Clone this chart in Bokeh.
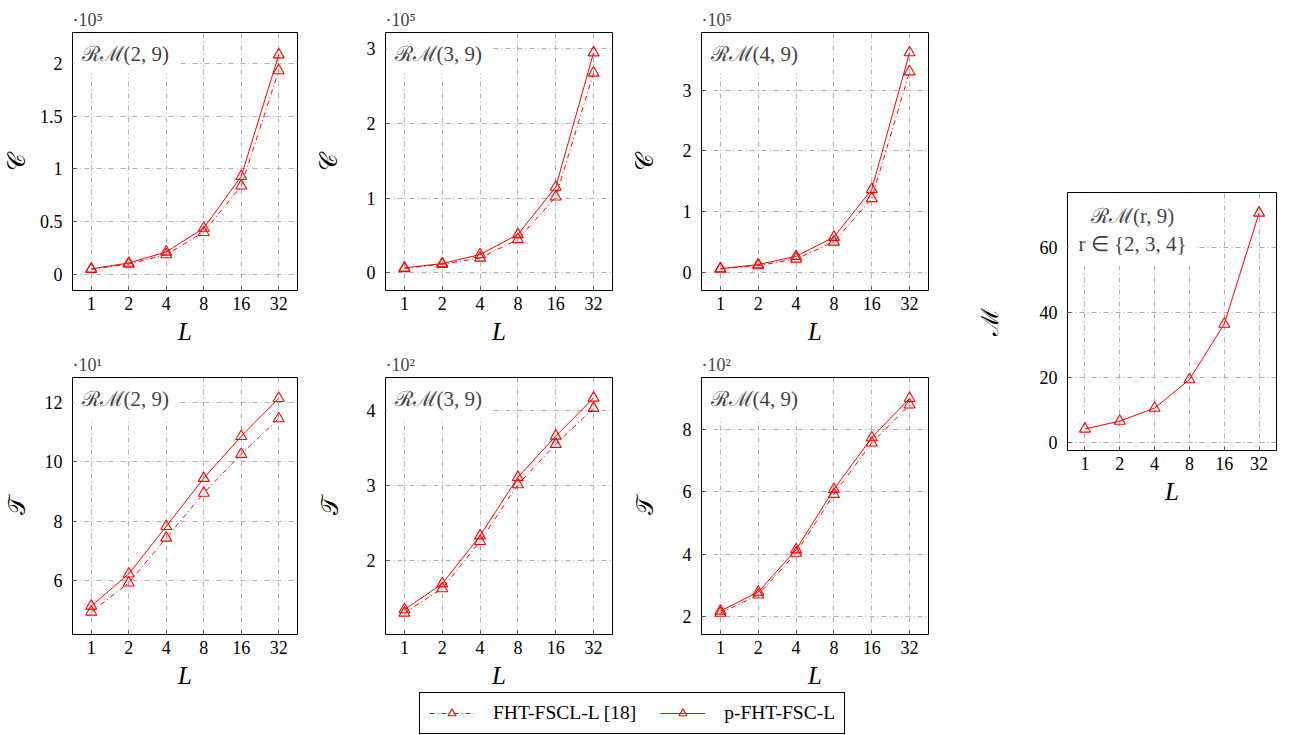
from bokeh.plotting import figure
from bokeh.models import (Range1d, FixedTicker, CustomJSTickFormatter, Label,
                          Legend, LegendItem)
from bokeh.layouts import row, column
from bokeh.embed import file_html
from bokeh.resources import INLINE

# ---------------- data ----------------
L = [1, 2, 4, 8, 16, 32]

# complexity C (x 10^5)
c_rm29_fscl = [0.05, 0.10, 0.19, 0.40, 0.84, 1.93]
c_rm29_pfsc = [0.055, 0.11, 0.215, 0.44, 0.93, 2.08]
c_rm39_fscl = [0.06, 0.115, 0.20, 0.446, 1.016, 2.67]
c_rm39_pfsc = [0.067, 0.125, 0.245, 0.513, 1.146, 2.94]
c_rm49_fscl = [0.055, 0.11, 0.22, 0.50, 1.216, 3.305]
c_rm49_pfsc = [0.06, 0.127, 0.264, 0.578, 1.365, 3.62]

# latency T
t_rm29_fscl = [4.94, 5.92, 7.43, 8.94, 10.25, 11.45]   # x 10^1
t_rm29_pfsc = [5.14, 6.22, 7.82, 9.44, 10.85, 12.13]
t_rm39_fscl = [1.30, 1.625, 2.256, 3.013, 3.55, 4.03]  # x 10^2
t_rm39_pfsc = [1.345, 1.69, 2.33, 3.11, 3.66, 4.167]
t_rm49_fscl = [2.105, 2.69, 4.03, 5.92, 7.57, 8.79]    # x 10^2
t_rm49_pfsc = [2.17, 2.78, 4.14, 6.08, 7.74, 9.00]

# memory M
m_pfsc = [4.1, 6.5, 10.5, 19.3, 36.4, 70.6]

legend_labels = ["FHT-FSCL-L [18]", "p-FHT-FSC-L"]

# ---------------- style ----------------
RED = "#ff0000"
SERIF = "Liberation Serif"
DASHDOT = "5 3 1 3"


def panel(width, height, bl, br, bt, bb, yr, yticks, ylabel, ystand,
          exp, series, code_text, pad=8):
    p = figure(width=width, height=height, x_axis_type="log",
               x_range=Range1d(2 ** -0.5, 2 ** 5.5), y_range=Range1d(*yr),
               output_backend="svg", toolbar_location=None,
               min_border_left=bl, min_border_right=br,
               min_border_top=bt, min_border_bottom=bb)
    p.background_fill_color = "white"
    p.border_fill_color = "white"
    p.outline_line_color = "black"
    p.outline_line_width = 1
    p.outline_line_alpha = 1

    p.xaxis.ticker = FixedTicker(ticks=L)
    p.yaxis.ticker = FixedTicker(ticks=yticks)
    for ax in (p.xaxis[0], p.yaxis[0]):
        ax.formatter = CustomJSTickFormatter(code="return String(tick)")
        ax.axis_line_color = None
        ax.major_tick_in = 4
        ax.major_tick_out = 0
        ax.major_tick_line_color = "#555555"
        ax.minor_tick_line_color = None
        ax.major_label_text_font = SERIF
        ax.major_label_text_font_size = "18px"
        ax.major_label_text_color = "black"
        ax.axis_label_text_font = SERIF
        ax.axis_label_text_color = "black"
    p.xaxis.major_label_standoff = 6
    p.yaxis.major_label_standoff = 10
    p.xaxis.axis_label = "L"
    p.xaxis.axis_label_text_font_style = "italic"
    p.xaxis.axis_label_text_font_size = "25px"
    p.xaxis.axis_label_standoff = 5
    p.yaxis.axis_label = ylabel
    p.yaxis.axis_label_text_font_style = "normal"
    p.yaxis.axis_label_text_font_size = "24px"
    p.yaxis.axis_label_standoff = ystand

    p.grid.grid_line_color = "#b0b0b0"
    p.grid.grid_line_dash = DASHDOT
    p.grid.grid_line_width = 1

    if exp:
        p.title.text = exp
        p.title.text_font = SERIF
        p.title.text_font_size = "18px"
        p.title.text_font_style = "normal"
        p.title.align = "left"
        p.title.standoff = 5

    for vals, dash in series:
        p.line(L, vals, line_color=RED, line_width=1, line_dash=dash)
        p.scatter(L, vals, marker="triangle", size=11, line_color=RED,
                  fill_color=None, line_width=1.1)

    lab = Label(x=2 ** -0.5, y=yr[1], text=code_text, text_font=SERIF,
                text_font_size="21px", anchor="top_left", text_align="center",
                text_baseline="top", background_fill_color="white",
                padding=pad, x_offset=1, y_offset=-1)
    p.add_layout(lab)
    return p


H = 350
H2 = 342
p1 = panel(312, H, 70, 15, 32, 60, (-0.15, 2.29), [0, 0.5, 1, 1.5, 2], "𝒞", 7,
           "·10⁵", [(c_rm29_fscl, DASHDOT), (c_rm29_pfsc, "solid")], "ℛℳ(2, 9)")
p2 = panel(316, H, 73, 16, 32, 60, (-0.235, 3.21), [0, 1, 2, 3], "𝒞", 22,
           "·10⁵", [(c_rm39_fscl, DASHDOT), (c_rm39_pfsc, "solid")], "ℛℳ(3, 9)")
p3 = panel(322, H, 73, 22, 32, 60, (-0.30, 3.95), [0, 1, 2, 3], "𝒞", 22,
           "·10⁵", [(c_rm49_fscl, DASHDOT), (c_rm49_pfsc, "solid")], "ℛℳ(4, 9)")
p4 = panel(312, H2, 70, 15, 26, 58, (4.18, 12.83), [6, 8, 10, 12], "𝒯", 12,
           "·10¹", [(t_rm29_fscl, DASHDOT), (t_rm29_pfsc, "solid")], "ℛℳ(2, 9)")
p5 = panel(316, H2, 73, 16, 26, 58, (1.013, 4.44), [2, 3, 4], "𝒯", 21,
           "·10²", [(t_rm39_fscl, DASHDOT), (t_rm39_pfsc, "solid")], "ℛℳ(3, 9)")
p6 = panel(322, H2, 73, 22, 26, 58, (1.415, 9.67), [2, 4, 6, 8], "𝒯", 22,
           "·10²", [(t_rm49_fscl, DASHDOT), (t_rm49_pfsc, "solid")], "ℛℳ(4, 9)")
p7 = panel(339, 735, 117, 13, 192, 285, (-2.55, 76.9), [0, 20, 40, 60], "ℳ", 34,
           None, [(m_pfsc, "solid")], "ℛℳ(r, 9)\nr ∈ {2, 3, 4}", pad=10)

# legend strip (sample renderers use real data but sit outside the visible range)
pl = figure(width=950, height=43, x_range=Range1d(1000, 1001), y_range=Range1d(0, 1),
            output_backend="svg", toolbar_location=None,
            x_axis_location=None, y_axis_location=None,
            min_border_left=0, min_border_right=0, min_border_top=0,
            min_border_bottom=0)
pl.grid.visible = False
pl.outline_line_color = None
pl.background_fill_color = "white"
pl.border_fill_color = "white"
items = []
for lab_text, dash, vals in zip(legend_labels, [DASHDOT, "solid"],
                                [c_rm29_fscl, c_rm29_pfsc]):
    lr = pl.line(L, vals, line_color=RED, line_width=1, line_dash=dash)
    sr = pl.scatter(L, vals, marker="triangle", size=9, line_color=RED,
                    fill_color=None, line_width=1.1)
    items.append(LegendItem(label=lab_text, renderers=[lr, sr]))
leg = Legend(items=items, orientation="horizontal", location=(419, 1))
leg.label_text_font = SERIF
leg.label_text_font_size = "19.5px"
leg.label_text_color = "black"
leg.glyph_width = 45
leg.glyph_height = 20
leg.label_standoff = 19
leg.spacing = 24
leg.padding = 9
leg.margin = 0
leg.border_line_color = "black"
leg.border_line_width = 1
leg.border_line_alpha = 1
leg.background_fill_color = "white"
leg.background_fill_alpha = 1
pl.add_layout(leg)

layout = row(column(row(p1, p2, p3), row(p4, p5, p6), pl), p7)

open("out.html", "w").write(file_html(layout, INLINE))
